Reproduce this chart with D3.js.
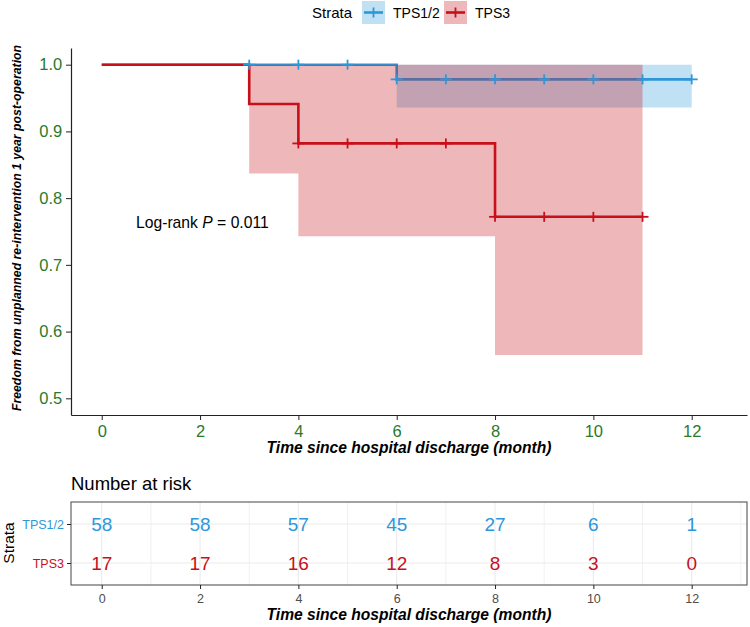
<!DOCTYPE html>
<html lang="en">
<head>
  <meta charset="UTF-8">
  <title>Kaplan-Meier: TPS1/2 vs TPS3</title>
  <script src="https://d3js.org/d3.v7.min.js"></script>
  <style>
    body { margin: 0; background: #fff; }
    text { font-family: "Liberation Sans", Arial, sans-serif; }
    .axis line, .axis path { stroke: #222; }
  </style>
</head>
<body>
  <svg width="750" height="627"></svg>
  <script>
    // Strata names and colours
    const strata = ["TPS1/2", "TPS3"];
    const colors = ["#2E97DA", "#C8101A"];

    // Survival steps (time, estimate, CI)
    const timeA = [0, 6, 12];
    const survA = [1, 0.978, 0.978];
    const lowA  = [1, 0.936, 0.936];
    const upA   = [1, 1, 1];

    const timeB = [0, 3, 4, 8, 11];
    const survB = [1, 0.941, 0.882, 0.772, 0.772];
    const lowB  = [1, 0.837, 0.743, 0.565, 0.565];
    const upB   = [1, 1, 1, 1, 1];

    // Censored observations
    const censorA = [3, 4, 5, 6, 7, 8, 9, 10, 11, 12];
    const censorB = [4, 5, 6, 7, 8, 9, 10, 11];

    // Risk table
    const riskTimes = [0, 2, 4, 6, 8, 10, 12];
    const riskA = [58, 58, 57, 45, 27, 6, 1];
    const riskB = [17, 17, 16, 12, 8, 3, 0];

    const xTicks = [0, 2, 4, 6, 8, 10, 12];
    const yTicks = [0.5, 0.6, 0.7, 0.8, 0.9, 1.0];

    const svg = d3.select("svg");
    const x = d3.scaleLinear().domain([-0.625, 13.125]).range([71, 747]);
    const y = d3.scaleLinear().domain([0.475, 1.025]).range([415, 48]);

    const series = [
      { name: strata[0], color: colors[0], time: timeA, surv: survA, low: lowA, up: upA, cens: censorA },
      { name: strata[1], color: colors[1], time: timeB, surv: survB, low: lowB, up: upB, cens: censorB }
    ];
    series.forEach(s => {
      s.pts = s.time.map((t, i) => ({ t: t, s: s.surv[i], lo: s.low[i], hi: s.up[i] }));
    });

    // value at a time for a step function
    function stepValue(s, t) {
      let v = s.surv[0];
      s.time.forEach((tt, i) => { if (tt <= t) v = s.surv[i]; });
      return v;
    }

    const line = d3.line().curve(d3.curveStepAfter).x(d => x(d.t)).y(d => y(d.s));
    const area = d3.area().curve(d3.curveStepAfter)
      .x(d => x(d.t)).y0(d => y(d.lo)).y1(d => y(d.hi));

    // curves first, ribbons on top (as survminer does)
    svg.append("g").selectAll("path").data(series).enter().append("path")
      .attr("d", d => line(d.pts))
      .attr("fill", "none")
      .attr("stroke", d => d.color)
      .attr("stroke-width", 2.6);

    svg.append("g").selectAll("path").data(series).enter().append("path")
      .attr("d", d => area(d.pts))
      .attr("fill", d => d.color)
      .attr("fill-opacity", 0.3);

    // censor marks
    series.forEach(s => {
      const g = svg.append("g").attr("stroke", s.color).attr("stroke-width", 1.8);
      s.cens.forEach(t => {
        const cx = x(t), cy = y(stepValue(s, t));
        g.append("line").attr("x1", cx - 6).attr("x2", cx + 6).attr("y1", cy).attr("y2", cy);
        g.append("line").attr("x1", cx).attr("x2", cx).attr("y1", cy - 5).attr("y2", cy + 5);
      });
    });

    // axes
    const xAxis = svg.append("g").attr("class", "axis")
      .attr("transform", "translate(0,415)")
      .call(d3.axisBottom(x).tickValues(xTicks).tickSize(5).tickSizeOuter(0));
    xAxis.select(".domain").attr("stroke-width", 1.2);
    xAxis.selectAll("text").attr("fill", "#2A7A2A").attr("font-size", 16.5).attr("dy", "0.85em");

    const yAxis = svg.append("g").attr("class", "axis")
      .attr("transform", "translate(71,0)")
      .call(d3.axisLeft(y).tickValues(yTicks).tickFormat(d3.format(".1f")).tickSize(5).tickSizeOuter(0));
    yAxis.select(".domain").attr("stroke-width", 1.2);
    yAxis.selectAll("text").attr("fill", "#2A7A2A").attr("font-size", 16.5).attr("dx", "-0.05em");

    svg.append("text")
      .attr("transform", "translate(21,228) rotate(-90)")
      .attr("text-anchor", "middle")
      .attr("font-size", 12.3).attr("font-weight", "bold").attr("font-style", "italic")
      .text("Freedom from unplanned re-intervention 1 year post-operation");

    svg.append("text")
      .attr("x", 409).attr("y", 453)
      .attr("text-anchor", "middle")
      .attr("font-size", 15.6).attr("font-weight", "bold").attr("font-style", "italic")
      .text("Time since hospital discharge (month)");

    // log-rank annotation
    const lr = svg.append("text").attr("x", 136).attr("y", 228).attr("font-size", 15.7);
    lr.append("tspan").text("Log-rank ");
    lr.append("tspan").attr("font-style", "italic").text("P");
    lr.append("tspan").text(" = 0.011");

    // legend
    svg.append("text").attr("x", 312).attr("y", 18).attr("font-size", 15).text("Strata");
    const legX = [362, 444];
    const legT = [393, 475];
    series.forEach((s, i) => {
      const g = svg.append("g");
      g.append("rect").attr("x", legX[i]).attr("y", 1).attr("width", 23).attr("height", 23)
        .attr("fill", s.color).attr("fill-opacity", 0.3);
      g.append("line").attr("x1", legX[i] + 2).attr("x2", legX[i] + 21).attr("y1", 12.5).attr("y2", 12.5)
        .attr("stroke", s.color).attr("stroke-width", 2.6);
      g.append("line").attr("x1", legX[i] + 11.5).attr("x2", legX[i] + 11.5).attr("y1", 7.5).attr("y2", 17.5)
        .attr("stroke", s.color).attr("stroke-width", 1.8);
      g.append("text").attr("x", legT[i]).attr("y", 18).attr("font-size", 14).text(s.name);
    });

    // ---- risk table ----
    const rTop = 502, rBottom = 585;
    const ry = d3.scalePoint().domain(strata).range([524, 563]);

    svg.append("text").attr("x", 71).attr("y", 490).attr("font-size", 18.5).text("Number at risk");

    const grid = svg.append("g");
    d3.range(-0, 14, 1).forEach(t => {
      grid.append("line").attr("x1", x(t)).attr("x2", x(t)).attr("y1", rTop).attr("y2", rBottom)
        .attr("stroke", "#EBEBEB").attr("stroke-width", t % 2 === 0 ? 1.1 : 0.7);
    });
    strata.forEach(s => {
      grid.append("line").attr("x1", 71).attr("x2", 747).attr("y1", ry(s)).attr("y2", ry(s))
        .attr("stroke", "#EBEBEB").attr("stroke-width", 1.1);
    });
    svg.append("rect").attr("x", 71).attr("y", rTop).attr("width", 747 - 71).attr("height", rBottom - rTop)
      .attr("fill", "none").attr("stroke", "#555").attr("stroke-width", 1.1);

    const riskRows = [riskA, riskB];
    series.forEach((s, i) => {
      svg.append("g").selectAll("text").data(riskRows[i]).enter().append("text")
        .attr("x", (d, j) => x(riskTimes[j]))
        .attr("y", ry(s.name) + 6.8)
        .attr("text-anchor", "middle")
        .attr("font-size", 19)
        .attr("fill", s.color)
        .text(d => d);
    });

    const rAxisX = svg.append("g").attr("class", "axis")
      .attr("transform", "translate(0," + rBottom + ")")
      .call(d3.axisBottom(x).tickValues(xTicks).tickSize(4).tickSizeOuter(0));
    rAxisX.select(".domain").remove();
    rAxisX.selectAll("line").attr("stroke", "#333");
    rAxisX.selectAll("text").attr("fill", "#4D4D4D").attr("font-size", 12.5).attr("dy", "0.85em");

    const rAxisY = svg.append("g").attr("class", "axis")
      .attr("transform", "translate(71,0)")
      .call(d3.axisLeft(ry).tickSize(4).tickSizeOuter(0));
    rAxisY.select(".domain").remove();
    rAxisY.selectAll("line").attr("stroke", "#333");
    rAxisY.selectAll("text").attr("font-size", 12.5).attr("fill", (d, i) => colors[i]);

    svg.append("text")
      .attr("transform", "translate(14,543) rotate(-90)")
      .attr("text-anchor", "middle")
      .attr("font-size", 15.5)
      .text("Strata");

    svg.append("text")
      .attr("x", 409).attr("y", 620)
      .attr("text-anchor", "middle")
      .attr("font-size", 15.6).attr("font-weight", "bold").attr("font-style", "italic")
      .text("Time since hospital discharge (month)");
  </script>
</body>
</html>
